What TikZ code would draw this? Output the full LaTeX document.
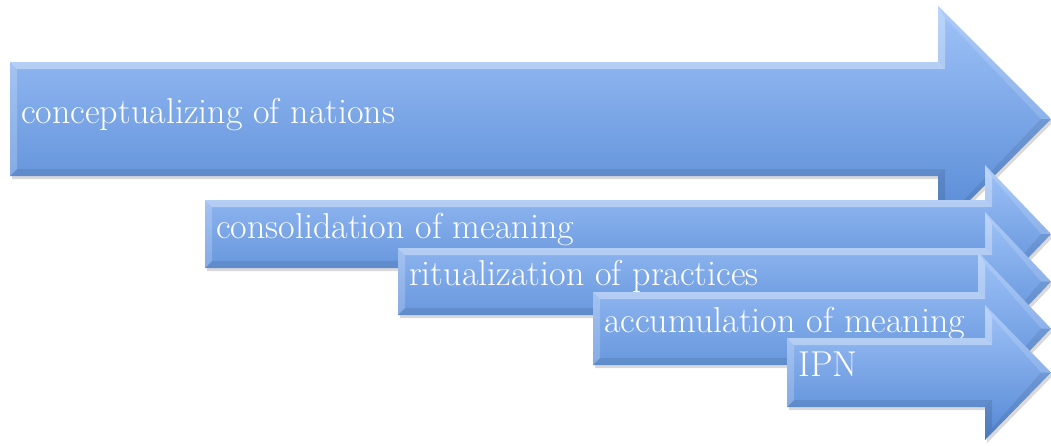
\documentclass[tikz,border=0pt]{standalone}
\usetikzlibrary{shadows}
\definecolor{arrowtop}{RGB}{160,195,248}
\definecolor{arrowbot}{RGB}{84,136,212}

\begin{document}
\begin{tikzpicture}[x=1pt,y=-1pt,line join=round,
	stage/.style={top color=arrowtop,bottom color=arrowbot,
		drop shadow={shadow xshift=2pt,shadow yshift=-3pt,opacity=.3}},
	stagetext/.style={anchor=base west,inner sep=0pt,text=white,font=\fontsize{36}{40}\selectfont}]
	\useasboundingbox (0,0) rectangle (1051,445);
	\foreach \nm/\xl/\yt/\yb/\xn/\he/\txt in {
		concept/10/62/176/938/56/conceptualizing of nations,
		consol/205/200/268/985/35/consolidation of meaning,
		ritual/398/248/315/985/36/ritualization of practices,
		accum/593/292/365/978/40/accumulation of meaning,
		ipn/787/338/407/985/33/IPN}{
		\pgfmathsetmacro\ym{(\yt+\yb)/2}
		\pgfmathsetmacro\ha{\yt-\he}
		\pgfmathsetmacro\hb{\yb+\he}
		% arrow body
		\path[stage] (\xl,\yt) -- (\xn,\yt) -- (\xn,\ha) -- (1051,\ym) -- (\xn,\hb) -- (\xn,\yb) -- (\xl,\yb) -- cycle;
		% bevel: light on top and left, dark below
		\fill[white,opacity=.35] (\xl,\yt) -- (\xn,\yt) -- (\xn+7,\yt+7) -- (\xl+7,\yt+7) -- cycle;
		\fill[white,opacity=.2] (\xl,\yt) -- (\xl+7,\yt+7) -- (\xl+7,\yb-7) -- (\xl,\yb) -- cycle;
		\fill[black,opacity=.08] (\xl,\yb) -- (\xl+7,\yb-7) -- (\xn+7,\yb-7) -- (\xn,\yb) -- cycle;
		\fill[white,opacity=.3] (\xn,\ha) -- (\xn+7,\ha+12) -- (\xn+7,\yt+7) -- (\xn,\yt) -- cycle;
		\fill[white,opacity=.15] (\xn,\ha) -- (1051,\ym) -- (1041,\ym) -- (\xn+7,\ha+12) -- cycle;
		\fill[black,opacity=.1] (\xn,\hb) -- (\xn+7,\hb-12) -- (\xn+7,\yb-7) -- (\xn,\yb) -- cycle;
		\fill[black,opacity=.08] (\xn,\hb) -- (1051,\ym) -- (1041,\ym) -- (\xn+7,\hb-12) -- cycle;
		\node[stagetext] (\nm) at (\xl+11,\ym+4) {\txt};
	}
\end{tikzpicture}
\end{document}
